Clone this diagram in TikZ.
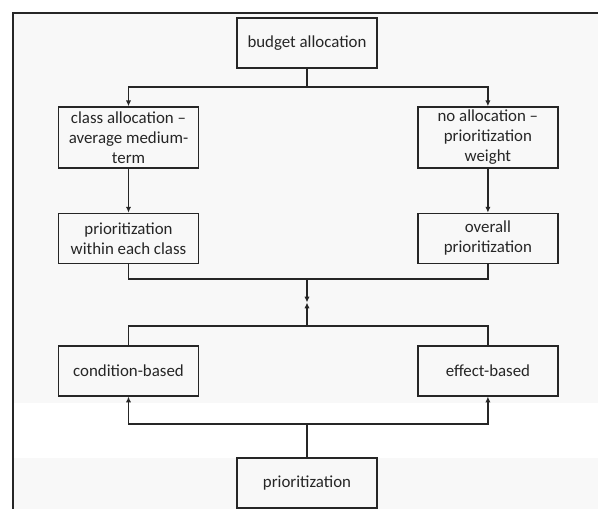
\documentclass[tikz,border=0pt]{standalone}
\usepackage{fontspec}
\setmainfont{Carlito}
\usetikzlibrary{positioning,arrows.meta}
\definecolor{linegray}{HTML}{262626}
\definecolor{bggray}{HTML}{F8F8F8}

\begin{document}
\begin{tikzpicture}[node distance=1.32cm,
  every node/.style={font=\fontsize{14.4}{17}\selectfont, text=linegray},
  box/.style={draw=linegray, rectangle, line width=1.2pt, minimum width=4.2cm, minimum height=1.5cm, inner sep=1pt, align=center},
  conn/.style={draw=linegray, line width=1.1pt},
  >={Latex[length=5pt,width=4.5pt]}]
  \useasboundingbox (0,0) rectangle (17.94,-15.27);
  % background and frame
  \fill[bggray] (0.39,-0.39) rectangle (17.94,-15.27);
  \fill[white] (0.39,-12.09) rectangle (17.94,-13.74);
  \draw[linegray, line width=1.7pt] (17.94,-0.39) -- (0.39,-0.39) -- (0.39,-15.27);

  \node[box] (budget) at (9.21,-1.29) {budget allocation};
  \node[box, minimum height=1.83cm] (classalloc) at (3.855,-4.125) {class allocation –\\average medium-\\term};
  \node[box, minimum height=1.83cm, right=6.54cm of classalloc] (noalloc) {no allocation –\\prioritization\\weight};
  \node[box, below=of classalloc] (withinclass) {prioritization\\within each class};
  \node[box, below=of noalloc] (overall) {overall\\prioritization};
  \node[box, below=2.43cm of withinclass] (condition) {condition-based};
  \node[box, below=2.43cm of overall] (effect) {effect-based};
  \node[box] (prio) at (9.21,-14.49) {prioritization};

  \coordinate (split1) at (9.21,-2.61);
  \coordinate (merge) at (9.21,-8.37);
  \coordinate (meet) at (9.21,-9.075);
  \coordinate (split2) at (9.21,-9.78);
  \coordinate (split3) at (9.21,-12.72);

  \draw[conn] (budget) -- (split1);
  \draw[conn, ->] (split1) -| (classalloc);
  \draw[conn, ->] (split1) -| (noalloc);
  \draw[conn, ->] (classalloc) -- (withinclass);
  \draw[conn, ->] (noalloc) -- (overall);
  \draw[conn] (withinclass) |- (merge);
  \draw[conn] (overall) |- (merge);
  \draw[conn, line width=2pt, ->] (merge) -- (meet);
  \draw[conn, line width=2pt, ->] (split2) -- (meet);
  \draw[conn] (split2) -| (condition);
  \draw[conn] (split2) -| (effect);
  \draw[conn, line width=2pt] (prio) -- (split3);
  \draw[conn, ->] (split3) -| (condition);
  \draw[conn, ->] (split3) -| (effect);
\end{tikzpicture}
\end{document}
